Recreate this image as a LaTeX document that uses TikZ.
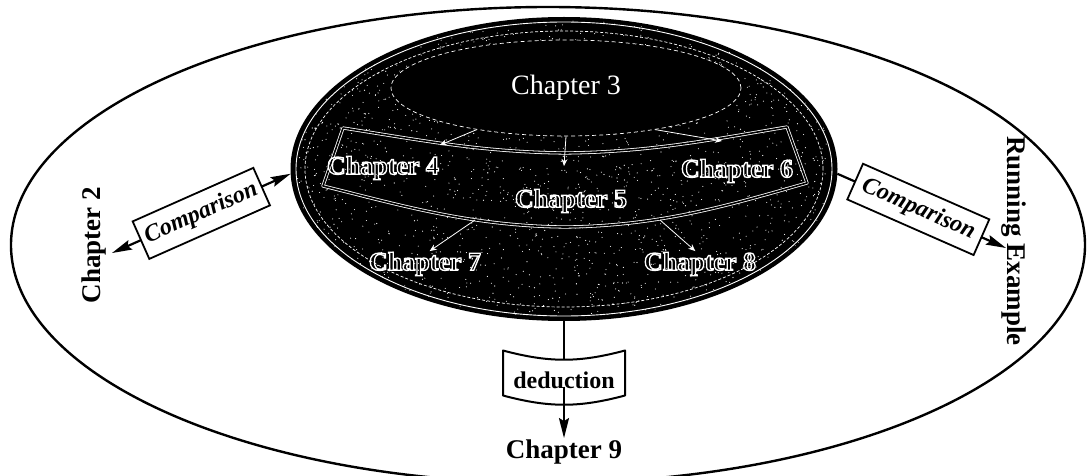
\documentclass[tikz,border=0pt]{standalone}
\usepackage{fontspec}
\setmainfont{Liberation Serif}
\usetikzlibrary{arrows.meta,shapes.geometric}
% hollow (outlined) text: stroke only, white outline
\newcommand\hollowtxt[1]{\special{pdf:literal 1 Tr 1.3 w 1 1 1 RG}#1}
\begin{document}
\begin{tikzpicture}[x=1pt,y=-1pt,
  >={Stealth[length=20pt,width=10pt,inset=3pt]},
  lbl/.style={font=\fontsize{27}{27}\selectfont\bfseries, inner sep=1pt},
  hol/.style={font=\fontsize{26}{26}\selectfont\bfseries, text=black, inner sep=1pt},
  cmp/.style={draw, line width=1.8pt, fill=white, minimum width=132pt, minimum height=41pt,
              inner sep=0pt, font=\fontsize{24}{24}\selectfont\bfseries\itshape},
  big/.style={line width=2.2pt},
  warr/.style={white, line width=0.8pt, -{Stealth[length=7pt,width=6pt]}}
]
\useasboundingbox (0,0) rectangle (1088,476);

% outer ellipse
\node[draw, line width=2.4pt, ellipse, minimum width=1074pt, minimum height=476pt, inner sep=0pt] (world) at (548,245) {};

% dark core
\node[ellipse, fill=black, draw=black, line width=2pt, minimum width=545pt, minimum height=302pt, inner sep=0pt] (core) at (564,169) {};
\begin{scope}
  \clip (564,169) ellipse [x radius=270pt, y radius=149pt];
  \pgfmathsetseed{42}
  \foreach \i in {1,...,2200}{\fill[white] ({564+272*rand},{169+150*rand}) circle (0.55pt);}
\end{scope}
\draw[white, line width=0.9pt] (564,169) ellipse [x radius=268pt, y radius=147pt];
\draw[white, line width=0.7pt, dash pattern=on 3pt off 2pt] (564,169) ellipse [x radius=259pt, y radius=138pt];

\node[ellipse, fill=black, draw=white, line width=0.7pt, dash pattern=on 4pt off 3pt,
      minimum width=350pt, minimum height=96pt, inner sep=0pt, text=white,
      font=\fontsize{28}{28}\selectfont] (ch3) at (566,88) {Chapter 3};

% band
\draw[white, line width=0.8pt, double=black, double distance=1.6pt, line join=round]
  (343,128) .. controls (420,140) and (480,152) .. (565,153)
  .. controls (650,152) and (710,140) .. (787,127) -- (807,183)
  .. controls (730,205) and (660,226) .. (565,227)
  .. controls (470,226) and (400,205) .. (323,186) -- cycle;

\node[hol] (ch4) at (383,168) {\hollowtxt{Chapter 4}};
\node[hol] (ch5) at (571,201) {\hollowtxt{Chapter 5}};
\node[hol] (ch6) at (737,171) {\hollowtxt{Chapter 6}};
\node[hol] (ch7) at (425,264) {\hollowtxt{Chapter 7}};
\node[hol] (ch8) at (700,264) {\hollowtxt{Chapter 8}};

\coordinate (b4) at (440,145);
\coordinate (b5) at (564,166);
\coordinate (b6) at (722,141);
\coordinate (b7) at (475,220);
\coordinate (b8) at (660,220);
\draw[warr] (ch3.205) -- (b4);
\draw[warr] (ch3.south) -- (b5);
\draw[warr] (ch3.335) -- (b6);
\draw[warr] (b7) -- (ch7.70);
\draw[warr] (b8) -- (ch8.110);

% outer labels
\node[lbl, rotate=90, anchor=base] (ch2) at (100,245) {Chapter 2};
\node[lbl, rotate=-90, anchor=base] (rex) at (1007,241) {Running Example};
\node[lbl, anchor=base] (ch9) at (564,458) {Chapter 9};

\coordinate (t2) at (112,253);
\coordinate (tR) at (1006,248);

\draw[big, <->] (t2) -- node[cmp, sloped, pos=0.5] (cmpL) {Comparison} (core.181);
\draw[big, ->] (core.359) -- node[cmp, sloped, pos=0.48, minimum width=138pt, minimum height=39pt] (cmpR) {Comparison} (tR);

% deduction
\node[minimum width=122pt, minimum height=45pt, inner sep=0pt, outer sep=0pt,
      text height=30pt, text depth=0pt, font=\fontsize{24}{24}\selectfont\bfseries] (ded) at (564,373) {deduction};
\draw[line width=2pt, line join=round] (ded.north west) to[bend right=15] (ded.north east)
  -- (ded.south east) to[bend left=15] (ded.south west) -- cycle;
\draw[line width=2.2pt, shorten >=-9pt] (core.south) -- (ded.north);
\draw[big, ->, shorten <=-9pt] (ded.south) -- (ch9.north);
\end{tikzpicture}
\end{document}
